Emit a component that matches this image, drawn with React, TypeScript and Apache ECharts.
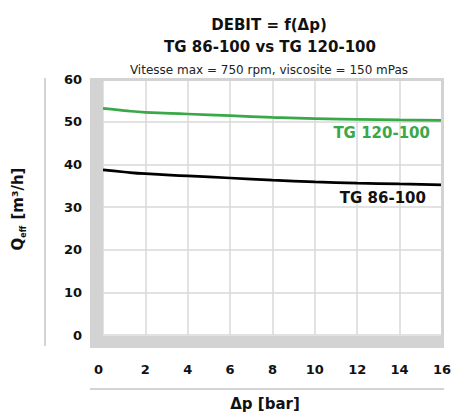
import React, { useEffect, useRef } from "react";
import * as echarts from "echarts";

const pressure = [0, 1, 2, 4, 6, 8, 10, 12, 14, 16];
const tg120 = [53.1, 52.6, 52.2, 51.8, 51.4, 51.0, 50.7, 50.55, 50.4, 50.3];
const tg86 = [38.7, 38.2, 37.8, 37.3, 36.8, 36.3, 35.9, 35.6, 35.4, 35.2];

const FONT = "DejaVu Sans";
const GREEN = "#3aa848";
const FRAME = "#d3d3d3";

export default function App() {
  const ref = useRef<HTMLDivElement>(null);
  useEffect(() => {
    if (!ref.current) return;
    const chart = echarts.init(ref.current, undefined, { renderer: "svg" });
    chart.setOption({
      animation: false,
      backgroundColor: "#ffffff",
      grid: { left: 103, right: 12, top: 79, bottom: 79 },
      xAxis: {
        type: "value",
        min: 0,
        max: 16,
        interval: 2,
        axisLine: { show: false },
        axisTick: { show: false },
        splitLine: { lineStyle: { color: "#d9d9d9", width: 1.5 } },
        axisLabel: {
          margin: 28, color: "#111", fontFamily: FONT, fontWeight: "bold", fontSize: 13,
          alignMinLabel: "right",
        },
      },
      yAxis: {
        type: "value",
        min: 0,
        max: 60,
        interval: 10,
        axisLine: { show: false },
        axisTick: { show: false },
        splitLine: { lineStyle: { color: "#d9d9d9", width: 1.5 } },
        axisLabel: { margin: 21, color: "#111", fontFamily: FONT, fontWeight: "bold", fontSize: 13 },
      },
      series: [
        {
          name: "TG 120-100",
          type: "line",
          smooth: true,
          showSymbol: false,
          data: pressure.map((p, i) => [p, tg120[i]]),
          lineStyle: { color: GREEN, width: 2.7 },
          z: 3,
        },
        {
          name: "TG 86-100",
          type: "line",
          smooth: true,
          showSymbol: false,
          data: pressure.map((p, i) => [p, tg86[i]]),
          lineStyle: { color: "#000", width: 2.7 },
          z: 3,
        },
      ],
      graphic: [
        { type: "rect", z: 10, shape: { x: 90, y: 78, width: 13, height: 270 }, style: { fill: FRAME } },
        { type: "rect", z: 10, shape: { x: 90, y: 336, width: 354, height: 12 }, style: { fill: FRAME } },
        { type: "rect", z: 10, shape: { x: 90, y: 78, width: 354, height: 3 }, style: { fill: FRAME } },
        { type: "rect", z: 10, shape: { x: 441, y: 78, width: 3, height: 270 }, style: { fill: FRAME } },
        { type: "rect", z: 10, shape: { x: 44, y: 78, width: 2, height: 268 }, style: { fill: FRAME } },
        { type: "rect", z: 10, shape: { x: 90, y: 388, width: 354, height: 2 }, style: { fill: FRAME } },
        {
          type: "text", z: 11, x: 269, y: 25,
          style: { text: "DEBIT = f(Δp)", fill: "#111", font: `bold 15px "${FONT}"`, textAlign: "center", textVerticalAlign: "middle" },
        },
        {
          type: "text", z: 11, x: 270, y: 47,
          style: { text: "TG 86-100 vs TG 120-100", fill: "#111", font: `bold 15px "${FONT}"`, textAlign: "center", textVerticalAlign: "middle" },
        },
        {
          type: "text", z: 11, x: 269, y: 70,
          style: { text: "Vitesse max = 750 rpm, viscosite = 150 mPas", fill: "#222", font: `12px "${FONT}"`, textAlign: "center", textVerticalAlign: "middle" },
        },
        {
          type: "text", z: 11, x: 430, y: 133,
          style: { text: "TG 120-100", fill: GREEN, font: `bold 15px "${FONT}"`, textAlign: "right", textVerticalAlign: "middle" },
        },
        {
          type: "text", z: 11, x: 426, y: 198,
          style: { text: "TG 86-100", fill: "#111", font: `bold 15px "${FONT}"`, textAlign: "right", textVerticalAlign: "middle" },
        },
        {
          type: "text", z: 11, x: 265, y: 404,
          style: { text: "Δp [bar]", fill: "#111", font: `bold 15px "${FONT}"`, textAlign: "center", textVerticalAlign: "middle" },
        },
        {
          type: "text", z: 11, x: 18, y: 209, rotation: Math.PI / 2,
          style: {
            text: "{q|Q}{s|eff}{n| [m³/h]}",
            fill: "#111",
            textAlign: "center",
            textVerticalAlign: "middle",
            rich: {
              q: { fontFamily: FONT, fontWeight: "bold", fontSize: 15, fill: "#111", lineHeight: 19 },
              s: { fontFamily: FONT, fontWeight: "bold", fontSize: 8, fill: "#111", verticalAlign: "bottom", lineHeight: 19, padding: [9, 1, 0, 0] },
              n: { fontFamily: FONT, fontWeight: "bold", fontSize: 15, fill: "#111", lineHeight: 19 },
            },
          },
        },
      ],
    });
    return () => chart.dispose();
  }, []);
  return <div ref={ref} style={{ width: 454, height: 414, position: "absolute", left: 0, top: 0 }} />;
}
